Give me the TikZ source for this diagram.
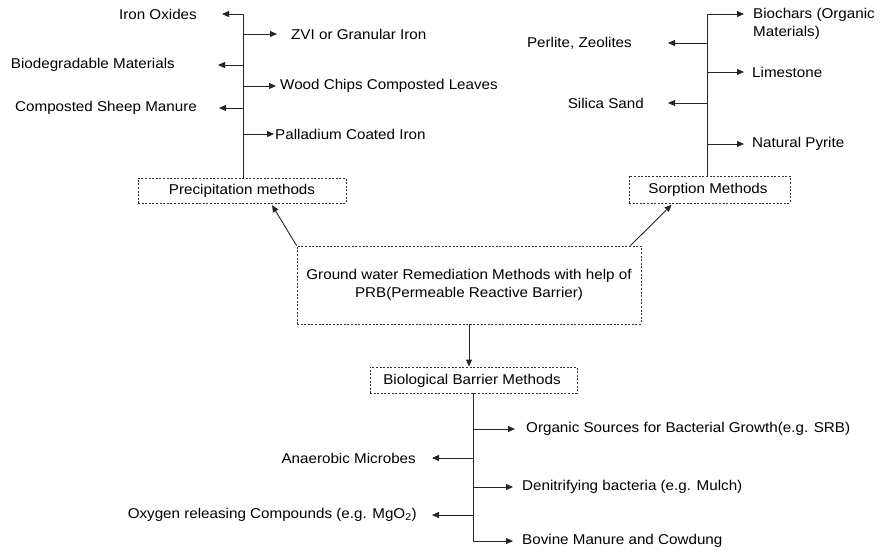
\documentclass[tikz,border=0pt]{standalone}
\usepackage{fontspec}
\setmainfont{Liberation Sans}[FakeStretch=1.07]
\usetikzlibrary{arrows.meta,calc}
\begin{document}
\begin{tikzpicture}[x=1pt,y=-1pt,
  every node/.style={font=\fontsize{14.2}{18.5}\selectfont, inner sep=0pt, text=black},
  dbox/.style={draw=black!80, dash pattern=on 2pt off 1.6pt, line width=0.8pt, minimum height=#1, inner sep=0pt},
  link/.style={draw=black!85, line width=0.9pt},
  arr/.style={link, -{Triangle[length=7pt,width=6pt]}}
]
\useasboundingbox (0,0) rectangle (880,554);

% boxes
\node[dbox=25pt, minimum width=208pt] (prec) at (242,190.5) {};
\node at (242,191) {Precipitation methods};
\node[dbox=27pt, minimum width=161pt] (sorp) at (709.5,189.5) {};
\node at (708,190) {Sorption Methods};
\node[dbox=78pt, minimum width=344pt, align=center, font=\fontsize{14.2}{18}\selectfont] (gw) at (469,285)
  {Ground water Remediation Methods with help of\\PRB(Permeable Reactive Barrier)};
\node[dbox=26pt, minimum width=207pt] (biob) at (473.5,380) {};
\node at (472,381) {Biological Barrier Methods};

% main arrows
\draw[arr, shorten >=2pt] (gw.north west) -- ([xshift=29pt]prec.south);
\draw[arr, shorten >=2pt] ([xshift=-11pt]gw.north east) -- ([xshift=-36.5pt]sorp.south);
\draw[arr] (gw.south) -- (gw.south |- biob.north);

% precipitation branch
\coordinate (ptop) at (243,14);
\draw[link] (ptop) -- (ptop |- prec.north);
\node[anchor=east] (io) at (197,14) {Iron Oxides};
\node[anchor=west] (zvi) at (291,34) {ZVI or Granular Iron};
\node[anchor=east] (bdm) at (175,65) {Biodegradable Materials};
\node[anchor=west] (wood) at (280,86) {Wood Chips Composted Leaves};
\node[anchor=east] (csm) at (197,108) {Composted Sheep Manure};
\node[anchor=west] (pal) at (275,134) {Palladium Coated Iron};
\coordinate (p2) at (243,34);
\coordinate (p3) at (243,65);
\coordinate (p4) at (243,86);
\coordinate (p5) at (243,108);
\coordinate (p6) at (243,134);
\draw[arr, shorten >=25pt] (ptop) -- (io.east);
\draw[arr, shorten >=14pt] (p2) -- (zvi.west);
\draw[arr, shorten >=43pt] (p3) -- (bdm.east);
\draw[arr, shorten >=4pt] (p4) -- (wood.west);
\draw[arr, shorten >=22pt] (p5) -- (csm.east);
\draw[arr, shorten >=1pt] (p6) -- (pal.west);

% sorption branch
\coordinate (stop) at (707,14);
\draw[link] (stop) -- (stop |- sorp.north);
\node[anchor=west, align=left] (bioc) at (753,24) {Biochars (Organic\\Materials)};
\node[anchor=east] (perl) at (632,43) {Perlite, Zeolites};
\node[anchor=west] (lime) at (752,72) {Limestone};
\node[anchor=east] (sil) at (644,103) {Silica Sand};
\node[anchor=west] (pyr) at (752,144) {Natural Pyrite};
\coordinate (s2) at (707,43);
\coordinate (s3) at (707,72);
\coordinate (s4) at (707,103);
\coordinate (s5) at (707,144);
\draw[arr, shorten >=9pt] (stop) -- (stop -| bioc.west);
\draw[arr, shorten >=36pt] (s2) -- (perl.east);
\draw[arr, shorten >=8pt] (s3) -- (lime.west);
\draw[arr, shorten >=24pt] (s4) -- (sil.east);
\draw[arr, shorten >=8pt] (s5) -- (pyr.west);

% biological branch
\coordinate (bbot) at (473,541);
\draw[link] (bbot |- biob.south) -- (bbot);
\node[anchor=west] (org) at (526,429) {Organic Sources for Bacterial Growth(e.g. SRB)};
\node[anchor=east] (ana) at (416,458) {Anaerobic Microbes};
\node[anchor=west] (den) at (522,487) {Denitrifying bacteria (e.g. Mulch)};
\node[anchor=east] (oxy) at (417,515) {Oxygen releasing Compounds (e.g. MgO\textsubscript{2})};
\node[anchor=west] (bov) at (522,541) {Bovine Manure and Cowdung};
\coordinate (b1) at (473,429);
\coordinate (b2) at (473,458);
\coordinate (b3) at (473,487);
\coordinate (b4) at (473,515);
\draw[arr, shorten >=11pt] (b1) -- (org.west);
\draw[arr, shorten >=16pt] (b2) -- (ana.east);
\draw[arr, shorten >=9pt] (b3) -- (den.west);
\draw[arr, shorten >=15pt] (b4) -- (oxy.east);
\draw[arr, shorten >=9pt] (bbot) -- (bov.west);
\end{tikzpicture}
\end{document}
